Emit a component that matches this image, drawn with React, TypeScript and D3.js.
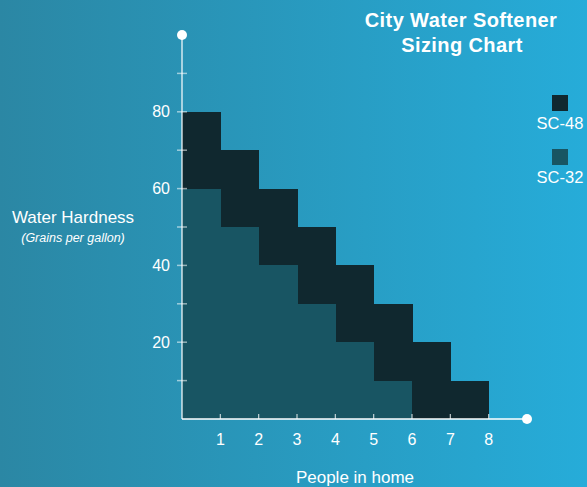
import React from "react";
import * as d3 from "d3";

const people = [1, 2, 3, 4, 5, 6, 7, 8];
const sc48Max = [80, 70, 60, 50, 40, 30, 20, 10];
const sc32Max = [60, 50, 40, 30, 20, 10, 0, 0];
const yTickLabels = [20, 40, 60, 80];
const yMinorTicks = [10, 30, 50, 70, 90];
const series = [
  { name: "SC-48", color: "#10282f" },
  { name: "SC-32", color: "#185563" },
];

const W = 587;
const H = 487;

export default function App() {
  const x = d3.scaleLinear().domain([0, 9]).range([182, 527]);
  const y = d3.scaleLinear().domain([0, 100]).range([419, 35]);
  const font = "Helvetica, 'Liberation Sans', Arial, sans-serif";
  return (
    <svg width={W} height={H} style={{ position: "absolute", left: 0, top: 0 }} fontFamily={font}>
      <defs>
        <linearGradient id="bg" x1="0" x2="1" y1="0" y2="0">
          <stop offset="0" stopColor="#2b87a4" />
          <stop offset="1" stopColor="#26acd9" />
        </linearGradient>
      </defs>
      <rect x={0} y={0} width={W} height={H} fill="url(#bg)" />
      {people.map((p, i) => (
        <rect
          key={"a" + p}
          x={x(p - 1)}
          y={y(sc48Max[i])}
          width={x(p) - x(p - 1) + 0.5}
          height={y(0) - y(sc48Max[i])}
          fill={series[0].color}
          shapeRendering="crispEdges"
        />
      ))}
      {people.map((p, i) =>
        sc32Max[i] > 0 ? (
          <rect
            key={"b" + p}
            x={x(p - 1)}
            y={y(sc32Max[i])}
            width={x(p) - x(p - 1) + (sc32Max[i + 1] > 0 ? 0.5 : 0)}
            height={y(0) - y(sc32Max[i])}
            fill={series[1].color}
            shapeRendering="crispEdges"
          />
        ) : null
      )}
      {/* y axis */}
      <line x1={x(0)} x2={x(0)} y1={y(0)} y2={y(100)} stroke="rgba(255,255,255,0.6)" strokeWidth={2} />
      {[...yTickLabels, ...yMinorTicks].map((t) => (
        <line key={"yt" + t} x1={x(0) - 5} x2={x(0) + 5} y1={y(t)} y2={y(t)} stroke="rgba(255,255,255,0.55)" strokeWidth={1.5} />
      ))}
      {yTickLabels.map((t) => (
        <text key={"yl" + t} x={170} y={y(t)} dy="0.35em" textAnchor="end" fill="#fff" fontSize={16}>
          {t}
        </text>
      ))}
      <circle cx={x(0)} cy={y(100)} r={5} fill="#fff" />
      {/* x axis */}
      <line x1={x(0)} x2={x(9)} y1={y(0)} y2={y(0)} stroke="#fff" strokeWidth={1.5} />
      {people.map((p) => (
        <line key={"xt" + p} x1={x(p)} x2={x(p)} y1={y(0)} y2={y(0) - 5} stroke="rgba(255,255,255,0.75)" strokeWidth={1.2} />
      ))}
      {people.map((p) => (
        <text key={"xl" + p} x={x(p)} y={445} textAnchor="middle" fill="#fff" fontSize={16}>
          {p}
        </text>
      ))}
      <circle cx={x(9)} cy={y(0)} r={5} fill="#fff" />
      <text x={355} y={483} textAnchor="middle" fill="#fff" fontSize={17}>
        People in home
      </text>
      <text x={73} y={223} textAnchor="middle" fill="#fff" fontSize={17}>
        Water Hardness
      </text>
      <text x={73} y={242} textAnchor="middle" fill="#fff" fontSize={12.5} fontStyle="italic">
        (Grains per gallon)
      </text>
      <text x={461} y={27} textAnchor="middle" fill="#fff" fontSize={20} fontWeight="bold" letterSpacing={0.4}>
        City Water Softener
      </text>
      <text x={462} y={52} textAnchor="middle" fill="#fff" fontSize={20} fontWeight="bold" letterSpacing={0.4}>
        Sizing Chart
      </text>
      {series.map((s, i) => (
        <g key={s.name} transform={`translate(0, ${i * 54})`}>
          <rect x={552} y={95} width={16} height={16} fill={s.color} />
          <text x={560} y={129} textAnchor="middle" fill="#fff" fontSize={16.5}>
            {s.name}
          </text>
        </g>
      ))}
    </svg>
  );
}
